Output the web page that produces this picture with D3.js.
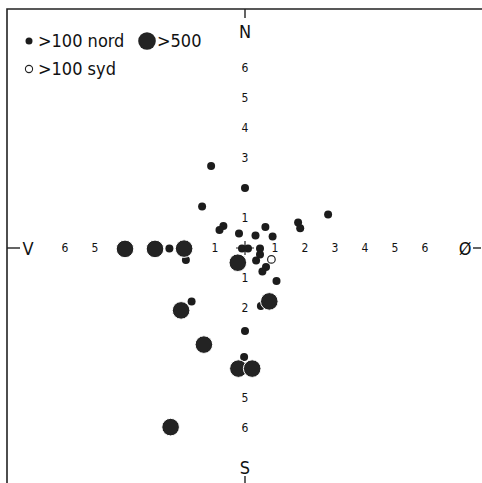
<!DOCTYPE html>
<html>
<head>
<meta charset="utf-8">
<script src="https://cdn.jsdelivr.net/npm/d3@7"></script>
<style>
  body { margin: 0; background: #fff; }
  svg { display: block; }
  text { font-family: "DejaVu Sans Condensed", "DejaVu Sans", sans-serif; font-stretch: condensed; fill: #111; }
</style>
</head>
<body>
<svg id="graf"></svg>
<script>
// >100 nord (small filled), units: x = ost(+)/vest(-), y = nord(+)/syd(-)
let nordX = [-1.13, 0, -1.43, -0.72, -0.85, -0.2, 0.35, 0.68, 0.92, 1.77, 1.84, 2.77, -0.1, 0.1, 0.5, 0.5, 0.37, 0.7, 0.58, 1.05, -1.97, -2.52, -1.78, 0.53, 0, -0.03]
let nordY = [2.73, 2.0, 1.38, 0.73, 0.6, 0.48, 0.42, 0.7, 0.38, 0.85, 0.66, 1.12, -0.02, -0.02, -0.02, -0.22, -0.42, -0.63, -0.78, -1.1, -0.4, -0.02, -1.78, -1.93, -2.77, -3.63]
// >100 syd (open)
let sydX = [0.88]
let sydY = [-0.38]
// >500 (big)
let bigX = [-4.0, -3.0, -2.03, -0.24, 0.81, -2.13, -1.37, -0.22, 0.24, -2.48]
let bigY = [-0.03, -0.03, -0.02, -0.49, -1.78, -2.08, -3.22, -4.02, -4.02, -5.97]

// tick labels that can be seen
let tickN = [1, 3, 4, 5, 6]
let tickS = [1, 2, 5, 6]
let tickV = [1, 5, 6]
let tickO = [1, 2, 3, 4, 5, 6]

function graficar() {
  let w = 482
  let h = 483
  let svg = d3.select('#graf').attr('width', w).attr('height', h)

  let x = d3.scaleLinear().domain([0, 6]).range([245, 425])
  let y = d3.scaleLinear().domain([0, 6]).range([248, 68])

  // frame (top and left)
  svg.append('path')
    .attr('d', 'M7,483 L7,9 L482,9')
    .attr('fill', 'none')
    .attr('stroke', '#222')
    .attr('stroke-width', 1.6)

  // end ticks
  let ticks = [[7, y(0), 20, y(0)], [473, y(0), 481, y(0)], [x(0), 9, x(0), 18], [x(0), 476, x(0), 483]]
  svg.selectAll('line.end').data(ticks).enter().append('line')
    .attr('x1', d => d[0]).attr('y1', d => d[1]).attr('x2', d => d[2]).attr('y2', d => d[3])
    .attr('stroke', '#222').attr('stroke-width', 1.4)

  // compass letters
  let dirs = [['N', x(0), 38], ['S', x(0), 474], ['V', 28, y(0) + 7], ['Ø', 465, y(0) + 7]]
  svg.selectAll('text.dir').data(dirs).enter().append('text')
    .attr('x', d => d[1]).attr('y', d => d[2])
    .attr('text-anchor', 'middle')
    .style('font-size', '18px')
    .text(d => d[0])

  // numbers along the axes
  let nums = []
  tickN.forEach(v => nums.push([v, x(0), y(v)]))
  tickS.forEach(v => nums.push([v, x(0), y(-v)]))
  tickV.forEach(v => nums.push([v, x(-v), y(0)]))
  tickO.forEach(v => nums.push([v, x(v), y(0)]))
  svg.selectAll('text.num').data(nums).enter().append('text')
    .attr('x', d => d[1]).attr('y', d => d[2] + 4)
    .attr('text-anchor', 'middle')
    .style('font-size', '12px')
    .text(d => d[0])

  // cross at origin
  svg.append('path')
    .attr('d', `M${x(0) - 9},${y(0)} L${x(0) + 9},${y(0)} M${x(0)},${y(0) - 7} L${x(0)},${y(0) + 7}`)
    .attr('stroke', '#222').attr('stroke-width', 1.2)

  // small filled
  svg.selectAll('circle.nord').data(nordX).enter().append('circle')
    .attr('cx', d => x(d))
    .attr('cy', (d, i) => y(nordY[i]))
    .attr('r', 4)
    .attr('fill', '#1c1c1c')

  // open
  svg.selectAll('circle.syd').data(sydX).enter().append('circle')
    .attr('cx', d => x(d))
    .attr('cy', (d, i) => y(sydY[i]))
    .attr('r', 3.8)
    .attr('fill', '#fff')
    .attr('stroke', '#222').attr('stroke-width', 1.2)

  // big
  svg.selectAll('circle.big').data(bigX).enter().append('circle')
    .attr('cx', d => x(d))
    .attr('cy', (d, i) => y(bigY[i]))
    .attr('r', 8.8)
    .attr('fill', '#232323')
    .attr('stroke', '#fff').attr('stroke-width', 1)

  // legend
  let lg = svg.append('g')
  lg.append('circle').attr('cx', 29).attr('cy', 41).attr('r', 3.5).attr('fill', '#1c1c1c')
  lg.append('text').attr('x', 38).attr('y', 47).style('font-size', '18px').text('>100 nord')
  lg.append('circle').attr('cx', 147).attr('cy', 41).attr('r', 8.8).attr('fill', '#232323')
  lg.append('text').attr('x', 157).attr('y', 47).style('font-size', '18px').text('>500')
  lg.append('circle').attr('cx', 29).attr('cy', 69).attr('r', 3.6).attr('fill', '#fff').attr('stroke', '#222').attr('stroke-width', 1.1)
  lg.append('text').attr('x', 38).attr('y', 75).style('font-size', '18px').text('>100 syd')
}

graficar()
</script>
</body>
</html>
